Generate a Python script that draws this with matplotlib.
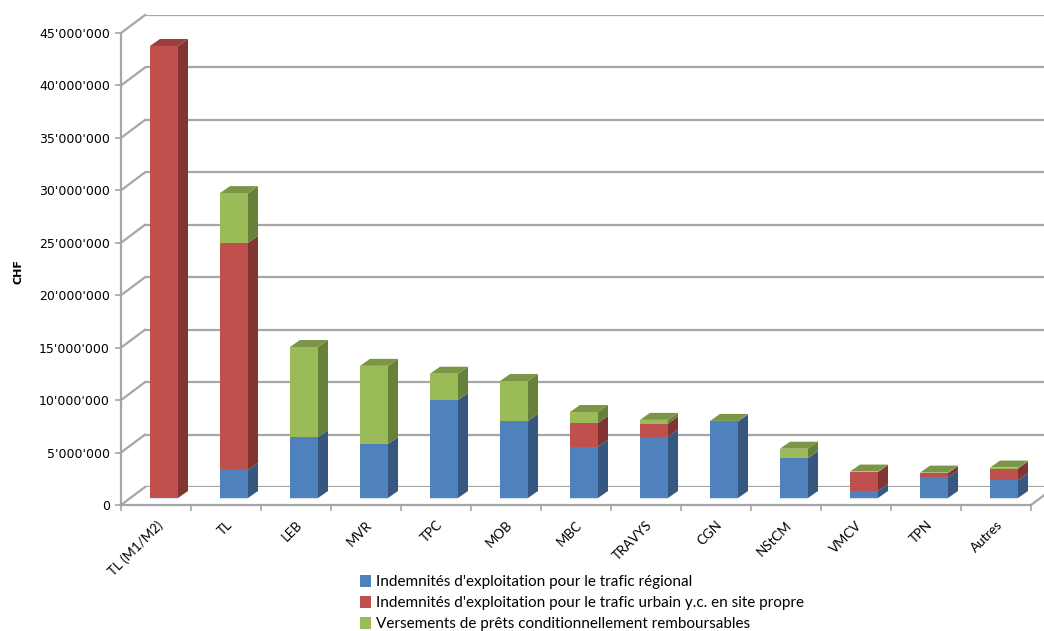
import matplotlib
matplotlib.use("Agg")
import matplotlib.pyplot as plt
import numpy as np
from matplotlib.patches import Polygon, Patch
from matplotlib.lines import Line2D
from matplotlib.transforms import IdentityTransform
from matplotlib.ticker import FuncFormatter, MultipleLocator, FixedLocator

# ---------------- data ----------------
categories = ["TL (M1/M2)", "TL", "LEB", "MVR", "TPC", "MOB", "MBC", "TRAVYS",
              "CGN", "NStCM", "VMCV", "TPN", "Autres"]
regional = [0.0, 2.67e6, 5.8e6, 5.15e6, 9.35e6, 7.35e6, 4.9e6, 5.85e6,
            7.3e6, 3.8e6, 0.67e6, 1.97e6, 1.7e6]
urbain = [43.1e6, 21.65e6, 0.0, 0.0, 0.0, 0.0, 2.25e6, 1.25e6,
          0.0, 0.0, 1.8e6, 0.4e6, 1.1e6]
prets = [0.0, 4.75e6, 8.6e6, 7.45e6, 2.5e6, 3.8e6, 1.05e6, 0.35e6,
         0.05e6, 0.9e6, 0.05e6, 0.05e6, 0.1e6]
series_labels = ["Indemnités d'exploitation pour le trafic régional",
                 "Indemnités d'exploitation pour le trafic urbain y.c. en site propre",
                 "Versements de prêts conditionnellement remboursables"]
y_label = "CHF"
y_max = 45e6
y_step = 5e6

# ---------------- style ----------------
front_cols = ["#4F81BD", "#C0504D", "#9BBB59"]
side_cols = ["#36577F", "#823432", "#67803A"]
top_cols = ["#3E6699", "#9A3F3D", "#7A9646"]
grid_col = "#A6A6A6"

W, H = 1044, 631
fig = plt.figure(figsize=(W / 100, H / 100), dpi=100)

n = len(categories)
cat_px = 70.0
plot_w = cat_px * n
unit_h = 471.96  # pixels for y_max


def ax_at(x0, y0_img):
    a = fig.add_axes([x0 / W, (H - y0_img) / H, plot_w / W, unit_h / H])
    a.set_xlim(-0.5, n - 0.5)
    a.set_ylim(0, y_max)
    a.patch.set_alpha(0)
    return a

# back wall
ax_b = ax_at(145, 487)
ax_b.set_zorder(0)
for s in ax_b.spines.values():
    s.set_visible(False)
ax_b.set_xticks([])
ax_b.yaxis.set_major_locator(MultipleLocator(y_step))
ax_b.tick_params(left=False, labelleft=False)
ax_b.grid(axis="y", color=grid_col, lw=1.6)
ax_b.set_axisbelow(True)

# front axis
ax_f = ax_at(121, 505)
ax_f.set_zorder(1)
for k in ["top", "right"]:
    ax_f.spines[k].set_visible(False)
for k in ["left", "bottom"]:
    ax_f.spines[k].set_color(grid_col)
    ax_f.spines[k].set_linewidth(1.6)
ax_f.yaxis.set_major_locator(MultipleLocator(y_step))
ax_f.yaxis.set_major_formatter(FuncFormatter(lambda v, p: f"{v:,.0f}".replace(",", "'")))
ax_f.tick_params(axis="y", direction="out", length=4, width=1.2, color=grid_col,
                 labelsize=9, pad=4, labelcolor="#000000")
ax_f.xaxis.set_major_locator(FixedLocator(np.arange(n)))
ax_f.xaxis.set_minor_locator(FixedLocator(np.arange(n + 1) - 0.5))
ax_f.set_xticklabels(categories, rotation=45, ha="right", va="top",
                     rotation_mode="anchor", family="Lato", fontsize=9.5)
ax_f.tick_params(axis="x", which="major", length=0, pad=10)
ax_f.tick_params(axis="x", which="minor", length=4, width=1.2, color=grid_col)

fig.text(18 / W, 1 - 272 / H, y_label, rotation=90, ha="center", va="center",
         fontsize=8, fontweight="bold")

# bar plane
ax = ax_at(129, 498)
ax.set_zorder(2)
ax.axis("off")

# connecting lines (side wall / floor) from front to back
def disp(a, x, y):
    return a.transData.transform((x, y))

for v in np.arange(0, y_max + 1, y_step):
    p1 = disp(ax_f, -0.5, v)
    p2 = disp(ax_b, -0.5, v)
    fig.add_artist(Line2D([p1[0], p2[0]], [p1[1], p2[1]], transform=IdentityTransform(),
                          color=grid_col, lw=1.6, zorder=0.5))
p1 = disp(ax_f, n - 0.5, 0)
p2 = disp(ax_b, n - 0.5, 0)
fig.add_artist(Line2D([p1[0], p2[0]], [p1[1], p2[1]], transform=IdentityTransform(),
                      color=grid_col, lw=1.6, zorder=0.5))

# bars
bw = 0.4
dpx, dpy = 10.0, 7.0
inv = ax.transData.inverted()
o = ax.transData.transform((0, 0))
d = inv.transform((o[0] + dpx, o[1] + dpy))
ddx, ddy = d[0], d[1]

series = [regional, urbain, prets]
x = np.arange(n)
bottom = np.zeros(n)
top_idx = np.zeros(n, dtype=int)
for si, vals in enumerate(series):
    vals = np.asarray(vals)
    ax.bar(x, vals, bw, bottom=bottom, color=front_cols[si], zorder=3, linewidth=0)
    for i in range(n):
        if vals[i] <= 0:
            continue
        xr = x[i] + bw / 2
        y0, y1 = bottom[i], bottom[i] + vals[i]
        ax.add_patch(Polygon([(xr, y0), (xr + ddx, y0 + ddy), (xr + ddx, y1 + ddy), (xr, y1)],
                             closed=True, facecolor=side_cols[si], lw=0, zorder=3))
        top_idx[i] = si
    bottom = bottom + vals
for i in range(n):
    xl, xr = x[i] - bw / 2, x[i] + bw / 2
    yt = bottom[i]
    ax.add_patch(Polygon([(xl, yt), (xr, yt), (xr + ddx, yt + ddy), (xl + ddx, yt + ddy)],
                         closed=True, facecolor=top_cols[top_idx[i]], lw=0, zorder=3))
    ax.plot([xl, xr], [0, 0], color="#D8E2F0", lw=1.5, zorder=2.9, solid_capstyle="butt",
            clip_on=False)

handles = [Patch(facecolor=c, edgecolor="none") for c in front_cols]
fig.legend(handles, series_labels, loc="upper left", bbox_to_anchor=(354 / W, 1 - 569 / H),
           frameon=False, prop={"family": "Lato", "size": 11}, handlelength=0.7,
           handleheight=0.85, handletextpad=0.35, labelspacing=0.42, borderaxespad=0)

fig.savefig("out.png", dpi=100)
